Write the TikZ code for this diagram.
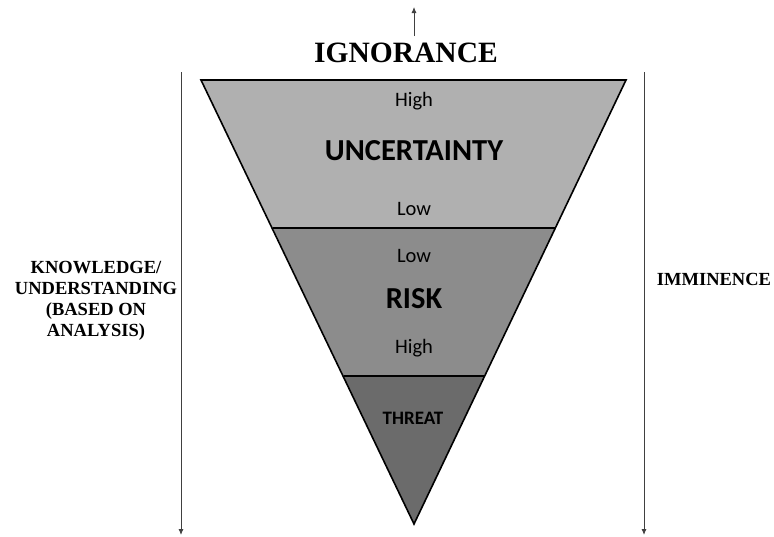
\documentclass[tikz,border=0pt]{standalone}
\usepackage{fontspec}
\setmainfont{Liberation Serif}
\newfontfamily\bandfont{Carlito}
\usetikzlibrary{arrows.meta}
\definecolor{bandA}{gray}{0.69}
\definecolor{bandB}{gray}{0.55}
\definecolor{bandC}{gray}{0.42}
\begin{document}
\begin{tikzpicture}[x=1pt,y=-1pt,
  band/.style={draw=black,line width=1.6pt,line join=miter},
  axis/.style={draw=black!75,line width=0.9pt,-{Latex[length=6pt,width=5pt]}},
  serifbold/.style={font=\bfseries,align=center,inner sep=0pt},
  sidetext/.style={serifbold,font=\bfseries\fontsize{18.5}{21}\selectfont},
  bandtext/.style={font=\bandfont\fontsize{20.5}{22}\selectfont,inner sep=0pt},
  bandtitle/.style={font=\bandfont\bfseries\fontsize{30.5}{32}\selectfont,inner sep=0pt}]
\useasboundingbox[fill=white] (0,0) rectangle (774,536);
% corners of the inverted triangle
\coordinate (tl) at (201,80);
\coordinate (tr) at (626,80);
\coordinate (ap) at (414,524);
% band fills
\fill[bandA] (201,80) -- (626,80) -- (555.3,228) -- (272.7,228) -- cycle;
\fill[bandB] (272.7,228) -- (555.3,228) -- (484.5,376) -- (343.5,376) -- cycle;
\fill[bandC] (343.5,376) -- (484.5,376) -- (414,524) -- cycle;
\draw[band] (272.7,228) -- (555.3,228);
\draw[band] (343.5,376) -- (484.5,376);
\draw[band] (tl) -- (tr) -- (ap) -- cycle;
% band labels
\node[bandtext] (u1) at (414,101) {High};
\node[bandtitle] (u2) at (414,151) {UNCERTAINTY};
\node[bandtext] (u3) at (414,209) {Low};
\node[bandtext] (r1) at (414,256) {Low};
\node[bandtitle] (r2) at (414,299) {RISK};
\node[bandtext] (r3) at (414,348) {High};
\node[font=\bandfont\bfseries\fontsize{19}{21}\selectfont,inner sep=0pt] (t1) at (413,418) {THREAT};
% heading and its arrow
\node[serifbold,font=\bfseries\fontsize{29.5}{31}\selectfont] (ig) at (406,53) {IGNORANCE};
\coordinate (igs) at (414,36);
\coordinate (ige) at (414,7);
\draw[axis,line width=0.8pt] (igs) -- (ige);
% side axes
\coordinate (la) at (181,72);
\coordinate (lb) at (181,535);
\coordinate (ra) at (644,72);
\coordinate (rb) at (644,535);
\draw[axis] (la) -- (lb);
\draw[axis] (ra) -- (rb);
\node[sidetext] (kn) at (96,301) {KNOWLEDGE/\\UNDERSTANDING\\(BASED ON\\ANALYSIS)};
\node[sidetext] (im) at (714,279) {IMMINENCE};
\end{tikzpicture}
\end{document}
